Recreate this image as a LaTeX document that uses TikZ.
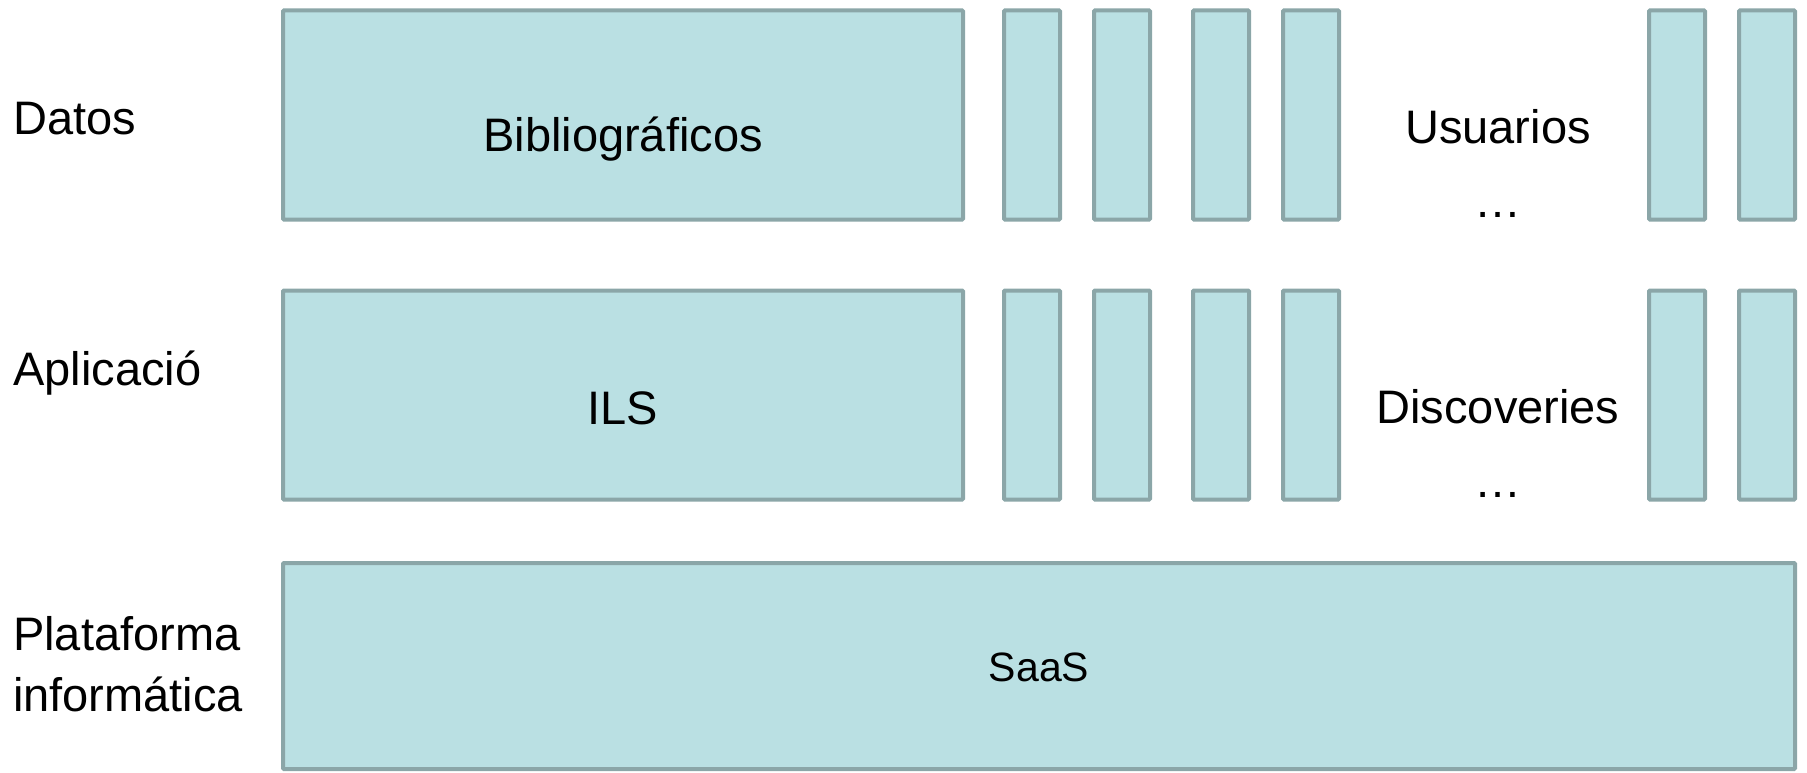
\documentclass[tikz,border=0pt]{standalone}
\usepackage{fontspec}
\setmainfont{Liberation Sans}
\usepackage{tikz}
\usetikzlibrary{positioning}

\definecolor{capafill}{RGB}{186,224,227}
\definecolor{capaline}{RGB}{139,166,168}

\begin{document}
\begin{tikzpicture}[
      x=1pt, y=-1pt,
      capa/.style={draw=capaline, fill=capafill, line width=4pt, rounded corners=1pt,
                   inner sep=0pt, outer sep=0pt, minimum height=209pt},
      ancha/.style={capa, minimum width=680pt},
      estrecha/.style={capa, minimum width=56pt},
      txt/.style={inner sep=0pt, font=\fontsize{47}{56}\selectfont},
      nivel/.style={txt, anchor=base west, align=left}
    ]
    \useasboundingbox (0,0) rectangle (1807,773);

    % capa de datos
    \node[ancha] (bib) at (623,115) {};
    \node[estrecha, right=41pt of bib] (d1) {};
    \node[estrecha, right=34pt of d1] (d2) {};
    \node[estrecha, right=43pt of d2] (d3) {};
    \node[estrecha, right=34pt of d3] (d4) {};
    \node[estrecha, right=310pt of d4] (d5) {};
    \node[estrecha, right=34pt of d5] (d6) {};

    % capa de aplicacion
    \node[ancha] (ils) at (623,395) {};
    \node[estrecha, right=41pt of ils] (a1) {};
    \node[estrecha, right=34pt of a1] (a2) {};
    \node[estrecha, right=43pt of a2] (a3) {};
    \node[estrecha, right=34pt of a3] (a4) {};
    \node[estrecha, right=310pt of a4] (a5) {};
    \node[estrecha, right=34pt of a5] (a6) {};

    % plataforma
    \node[capa, minimum width=1512pt, minimum height=206pt] (saas) at (1039,666) {};

    \node[txt, anchor=base] (tbib) at ([yshift=-36pt]bib.center) {Bibliográficos};
    \node[txt, anchor=base] (tils) at ([yshift=-29pt]ils.center) {ILS};
    \node[txt, anchor=base, font=\fontsize{41}{49}\selectfont] (tsaas) at ([yshift=-15pt]saas.center) {SaaS};

    \node[txt, anchor=base] (usu) at (1498,144) {Usuarios};
    \node[txt, anchor=base] (usudots) at (1498,217) {…};
    \node[txt, anchor=base] (disc) at (1498,423) {Discoveries};
    \node[txt, anchor=base] (discdots) at (1498,497) {…};

    \node[nivel] (datos) at (13,135) {Datos};
    \node[nivel] (aplic) at (13,385) {Aplicació};
    \node[nivel, font=\fontsize{47}{61}\selectfont] (plat) at (13,711) {Plataforma\\informática};
  \end{tikzpicture}
\end{document}
